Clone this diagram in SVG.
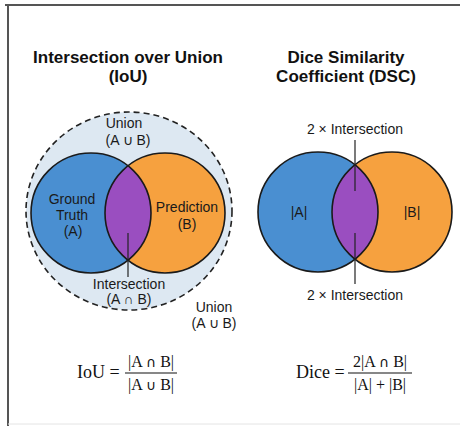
<svg xmlns="http://www.w3.org/2000/svg" width="460" height="426" viewBox="0 0 460 426">
<style>
.title{font-family:"Liberation Sans",Arial,sans-serif;font-weight:bold;font-size:17px;fill:#111;text-anchor:middle}
.lbl{font-family:"Liberation Sans",Arial,sans-serif;font-size:14px;fill:#1a1a1a;text-anchor:middle}
.math{font-family:"Liberation Serif","DejaVu Serif",serif;fill:#111}
.op{font-family:"DejaVu Sans",sans-serif;font-size:14px}
.ring{stroke:#1a1a1a;stroke-width:1.6}
.lead{stroke:#222;stroke-width:1.2;fill:none}
</style>
<defs>
<clipPath id="clipL"><circle cx="91" cy="213" r="60"/></clipPath>
<clipPath id="clipR"><circle cx="318" cy="212" r="60"/></clipPath>
</defs>
<rect width="460" height="426" fill="#ffffff"/>
<g id="frame">
<line x1="5" y1="5" x2="460" y2="5" stroke="#555" stroke-width="2"/>
<line x1="8" y1="4" x2="8" y2="426" stroke="#555" stroke-width="2"/>
<line x1="8" y1="424" x2="460" y2="424" stroke="#e4e4e4" stroke-width="1"/>
</g>
<g id="title-iou">
<text class="title" x="128" y="63">Intersection over Union</text>
<text class="title" x="128" y="82">(IoU)</text>
</g>
<g id="title-dsc">
<text class="title" x="346" y="63">Dice Similarity</text>
<text class="title" x="346" y="82">Coefficient (DSC)</text>
</g>
<g id="union-region">
<ellipse cx="129" cy="211" rx="103" ry="99" fill="#dde8f2" stroke="#222" stroke-width="1.6" stroke-dasharray="6,4"/>
</g>
<g id="ground-truth">
<circle cx="91" cy="213" r="60" fill="#4a8fd1"/>
</g>
<g id="prediction">
<circle cx="165" cy="213" r="60" fill="#f6a13f"/>
</g>
<g id="intersection-iou">
<circle cx="165" cy="213" r="60" fill="#9a4ec0" clip-path="url(#clipL)"/>
<circle cx="91" cy="213" r="60" fill="none" class="ring"/>
<circle cx="165" cy="213" r="60" fill="none" class="ring"/>
</g>
<g id="set-a">
<circle cx="318" cy="212" r="60" fill="#4a8fd1"/>
</g>
<g id="set-b">
<circle cx="392" cy="212" r="60" fill="#f6a13f"/>
</g>
<g id="intersection-dsc">
<circle cx="392" cy="212" r="60" fill="#9a4ec0" clip-path="url(#clipR)"/>
<circle cx="318" cy="212" r="60" fill="none" class="ring"/>
<circle cx="392" cy="212" r="60" fill="none" class="ring"/>
</g>
<g id="connectors">
<line class="lead" x1="128" y1="233" x2="128" y2="277"/>
<line class="lead" x1="355" y1="140" x2="355" y2="191"/>
<line class="lead" x1="355" y1="233" x2="355" y2="284"/>
</g>
<g id="labels-iou">
<text class="lbl" x="124" y="128">Union</text>
<text class="lbl" x="128" y="145">(A ∪ B)</text>
<text class="lbl" x="72" y="204">Ground</text>
<text class="lbl" x="72" y="220">Truth</text>
<text class="lbl" x="73" y="236">(A)</text>
<text class="lbl" x="187" y="212">Prediction</text>
<text class="lbl" x="187" y="229">(B)</text>
<text class="lbl" x="129" y="289">Intersection</text>
<text class="lbl" x="129" y="304">(A ∩ B)</text>
<text class="lbl" x="214" y="312">Union</text>
<text class="lbl" x="214" y="328">(A ∪ B)</text>
</g>
<g id="labels-dsc">
<text class="lbl" x="355" y="134">2 × Intersection</text>
<text class="lbl" x="299" y="217">|A|</text>
<text class="lbl" x="412" y="217">|B|</text>
<text class="lbl" x="355" y="300">2 × Intersection</text>
</g>
<g id="formula-iou">
<text class="math" x="77" y="378" font-size="18">IoU =</text>
<text class="math" x="151" y="367" font-size="16" text-anchor="middle">|A <tspan class="op">∩</tspan> B|</text>
<line x1="125" y1="373" x2="177" y2="373" stroke="#111" stroke-width="1.2"/>
<text class="math" x="151" y="390" font-size="16" text-anchor="middle">|A <tspan class="op">∪</tspan> B|</text>
</g>
<g id="formula-dice">
<text class="math" x="296" y="378" font-size="18">Dice =</text>
<text class="math" x="380" y="367" font-size="16" text-anchor="middle">2|A <tspan class="op">∩</tspan> B|</text>
<line x1="348" y1="373" x2="412" y2="373" stroke="#111" stroke-width="1.2"/>
<text class="math" x="380" y="390" font-size="16" text-anchor="middle">|A| + |B|</text>
</g>
</svg>
